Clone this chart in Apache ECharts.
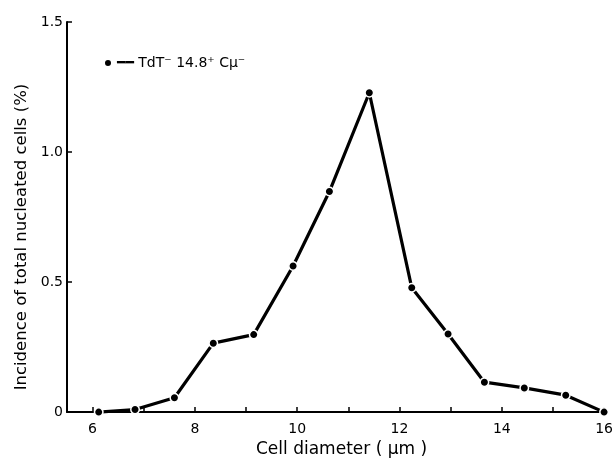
<!DOCTYPE html>
<html>
<head>
<meta charset="utf-8">
<script src="https://cdn.jsdelivr.net/npm/echarts@6/dist/echarts.min.js"></script>
<style>
html,body{margin:0;padding:0;background:#fff;}
#chart{width:616px;height:463px;}
</style>
</head>
<body>
<div id="chart"></div>
<script>
// Data
const seriesName = 'TdT\u207B 14.8\u207A C\u03BC\u207B';
const cellDiameter = [6.12, 6.83, 7.60, 8.36, 9.15, 9.92, 10.63, 11.41, 12.24, 12.95, 13.66, 14.44, 15.25, 16.0];
const incidence    = [0.00, 0.01, 0.055, 0.265, 0.298, 0.562, 0.848, 1.228, 0.478, 0.30, 0.115, 0.093, 0.065, 0.00];
const xTickValues  = [6, 7, 8, 9, 10, 11, 12, 13, 14, 15, 16];
const xLabelValues = [6, 8, 10, 12, 14, 16];
const yLabels = {0: '0', 0.5: '0.5', 1: '1.0', 1.5: '1.5'};

const font = 'DejaVu Sans';
const ink = '#000';
const chart = echarts.init(document.getElementById('chart'));
chart.setOption({
  animation: false,
  backgroundColor: '#fff',
  grid: {left: 67, right: 5, top: 22, bottom: 48, containLabel: false},
  legend: {
    data: [{name: seriesName, icon: 'circle'}],
    itemWidth: 8, itemHeight: 8, left: 98, top: 51, itemGap: 0,
    formatter: n => '\u2501\u2501 ' + n,
    textStyle: {fontFamily: font, fontSize: 14, color: ink}
  },
  xAxis: {
    type: 'value', min: 5.5, max: 16,
    name: 'Cell diameter ( \u03BCm )', nameLocation: 'middle', nameGap: 25,
    nameTextStyle: {fontFamily: font, fontSize: 17, color: ink, padding: [0, 0, 0, 12]},
    axisLine: {show: true, onZero: false, lineStyle: {color: ink, width: 2}},
    axisTick: {show: true, inside: true, length: 5, customValues: xTickValues, lineStyle: {color: ink, width: 1.5}},
    axisLabel: {customValues: xLabelValues, margin: 10, fontFamily: font, fontSize: 14, color: ink},
    splitLine: {show: false}
  },
  yAxis: {
    type: 'value', min: 0, max: 1.5, interval: 0.5,
    name: 'Incidence of total nucleated cells (%)', nameLocation: 'middle', nameGap: 36,
    nameTextStyle: {fontFamily: font, fontSize: 16.5, color: ink, padding: [0, 40, 0, 0]},
    axisLine: {show: true, lineStyle: {color: ink, width: 2}},
    axisTick: {show: true, inside: true, length: 5, lineStyle: {color: ink, width: 1.5}},
    axisLabel: {margin: 4, fontFamily: font, fontSize: 14, color: ink,
      formatter: v => yLabels[v] !== undefined ? yLabels[v] : String(v)},
    splitLine: {show: false}
  },
  series: [{
    name: seriesName,
    type: 'line',
    data: cellDiameter.map((x, i) => [x, incidence[i]]),
    symbol: 'circle', symbolSize: 8.5,
    lineStyle: {color: ink, width: 3.2},
    itemStyle: {color: ink, borderColor: '#fff', borderWidth: 1.5},
    clip: false
  }]
});
</script>
</body>
</html>
